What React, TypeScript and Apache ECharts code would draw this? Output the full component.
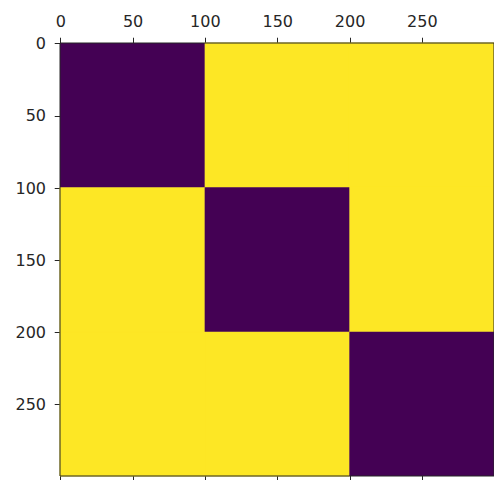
import React, { useEffect, useRef } from "react";
import * as echarts from "echarts";

// Block matrix shown as an image (300 x 300 pixels, 3 x 3 blocks of 100)
const blockEdges = [-0.5, 99.5, 199.5, 299.5];
const blockValues = [
  [0, 1, 1],
  [1, 0, 1],
  [1, 1, 0],
];
const xTicks = [0, 50, 100, 150, 200, 250];
const yTicks = [0, 50, 100, 150, 200, 250];
const colormap = ["#440154", "#fde725"];

export default function App() {
  const ref = useRef<HTMLDivElement>(null);
  useEffect(() => {
    if (!ref.current) return;
    const chart = echarts.init(ref.current, null, { renderer: "svg" });
    const data: number[][] = [];
    blockValues.forEach((row, r) => {
      row.forEach((v, c) => {
        data.push([blockEdges[c], blockEdges[c + 1], blockEdges[r], blockEdges[r + 1], v]);
      });
    });
    // draw higher values first so the dark blocks sit on top of any seam strokes
    data.sort((a, b) => b[4] - a[4]);
    const font = { fontFamily: "DejaVu Sans", fontSize: 16, color: "#262626" };
    const tickStyle = { lineStyle: { color: "#262626", width: 1 } };
    chart.setOption({
      animation: false,
      backgroundColor: "#ffffff",
      grid: {
        left: 60,
        top: 43,
        width: 434,
        height: 433,
        show: true,
        borderColor: "#262626",
        borderWidth: 1,
        backgroundColor: "transparent",
        z: 10,
      },
      xAxis: [
        {
          type: "value",
          position: "top",
          min: -0.5,
          max: 299.5,
          axisLine: { show: false },
          splitLine: { show: false },
          axisTick: { show: true, length: 6, customValues: xTicks, ...tickStyle },
          axisLabel: { show: true, margin: 14, customValues: xTicks, ...font },
        },
        {
          type: "value",
          position: "bottom",
          min: -0.5,
          max: 299.5,
          axisLine: { show: false },
          splitLine: { show: false },
          axisTick: { show: true, length: 6, customValues: xTicks, ...tickStyle },
          axisLabel: { show: false },
        },
      ],
      yAxis: [
        {
          type: "value",
          inverse: true,
          min: -0.5,
          max: 299.5,
          axisLine: { show: false },
          splitLine: { show: false },
          axisTick: { show: true, length: 6, customValues: yTicks, ...tickStyle },
          axisLabel: { show: true, margin: 14, customValues: yTicks, ...font },
        },
      ],
      series: [
        {
          type: "custom",
          xAxisIndex: 0,
          yAxisIndex: 0,
          data,
          renderItem: (params: any, api: any) => {
            const p0 = api.coord([api.value(0), api.value(2)]);
            const p1 = api.coord([api.value(1), api.value(3)]);
            const v = api.value(4);
            const c = colormap[v];
            return {
              type: "rect",
              shape: {
                x: Math.min(p0[0], p1[0]),
                y: Math.min(p0[1], p1[1]),
                width: Math.abs(p1[0] - p0[0]),
                height: Math.abs(p1[1] - p0[1]),
              },
              style: { fill: c, stroke: v ? c : null, lineWidth: v ? 1 : 0 },
            };
          },
        },
      ],
    });
    return () => chart.dispose();
  }, []);
  return <div ref={ref} style={{ width: 502, height: 488, margin: -8 }} />;
}
